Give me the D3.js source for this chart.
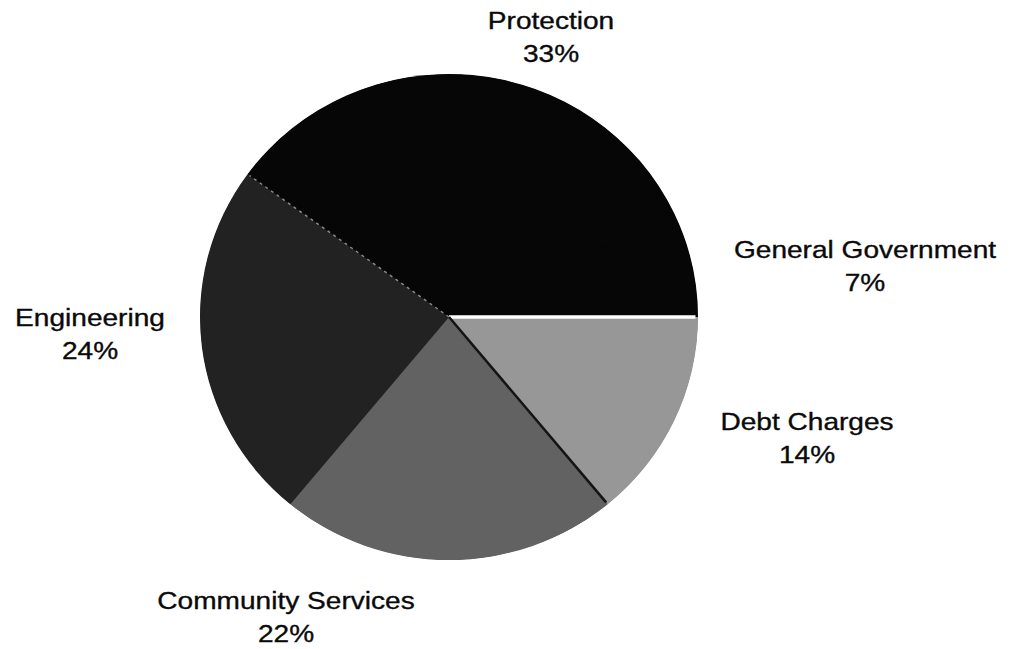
<!DOCTYPE html>
<html lang="en">
<head>
    <meta charset="UTF-8">
    <title>Expenditure Pie</title>
    <script src="https://d3js.org/d3.v7.min.js"></script>
    <style>
        body {
            margin: 0;
            padding: 0;
            background-color: #ffffff;
        }

        svg {
            display: block;
        }

        .label {
            font-family: "Liberation Sans", Arial, sans-serif;
            font-size: 24px;
            fill: #0a0a0a;
            stroke: #0a0a0a;
            stroke-width: 0.35px;
        }
    </style>
</head>
<body>

<svg id="chart"></svg>

<script>
    // data, going counterclockwise from 3 o'clock
    const categories = ["General Government", "Protection", "Engineering", "Community Services", "Debt Charges"];
    const shares = [7, 33, 24, 22, 14];
    const shareLabels = ["7%", "33%", "24%", "22%", "14%"];
    const fills = ["#060606", "#060606", "#222222", "#626262", "#979797"];

    const width = 1014;
    const height = 649;
    const cx = 449, cy = 317;
    const radius = 249;

    // where each label block is centred (first line)
    const labelAt = {
        "General Government": [865, 250],
        "Protection": [551, 21],
        "Engineering": [90, 318],
        "Community Services": [286, 601],
        "Debt Charges": [807, 422]
    };

    const svg = d3.select("#chart")
        .attr("width", width)
        .attr("height", height);

    const rows = categories.map((c, i) => ({ name: c, value: shares[i], label: shareLabels[i], fill: fills[i] }));

    // counterclockwise from 3 o'clock -> d3 angles decreasing from pi/2
    const pie = d3.pie()
        .sort(null)
        .value(d => d.value)
        .startAngle(Math.PI / 2)
        .endAngle(Math.PI / 2 - 2 * Math.PI);

    const arcs = pie(rows);

    const arc = d3.arc()
        .innerRadius(0)
        .outerRadius(radius);

    const g = svg.append("g")
        .attr("transform", `translate(${cx},${cy}) scale(1,0.976)`);

    // dark disc underneath so slice seams don't show light
    g.append("circle")
        .attr("r", radius - 0.5)
        .attr("fill", "#060606");

    g.selectAll("path.slice")
        .data(arcs)
        .join("path")
        .attr("class", "slice")
        .attr("d", arc)
        .attr("fill", d => d.data.fill);

    // slice edges as they look in the print
    const edge = a => [Math.sin(a) * radius, -Math.cos(a) * radius];
    const edges = [
        { angle: arcs[0].startAngle, stroke: "#ffffff", w: 3.5, dash: null },
        { angle: arcs[1].endAngle, stroke: "#8a8a8a", w: 1.5, dash: "3,4" },
        { angle: arcs[3].endAngle, stroke: "#141414", w: 2.5, dash: null }
    ];

    g.selectAll("line.edge")
        .data(edges)
        .join("line")
        .attr("class", "edge")
        .attr("x1", 0)
        .attr("y1", 0)
        .attr("x2", d => edge(d.angle)[0] * 0.99)
        .attr("y2", d => edge(d.angle)[1] * 0.99)
        .attr("stroke", d => d.stroke)
        .attr("stroke-width", d => d.w)
        .attr("stroke-dasharray", d => d.dash);

    // labels
    const labels = svg.selectAll("g.lbl")
        .data(rows)
        .join("g")
        .attr("class", "lbl")
        .attr("transform", d => `translate(${labelAt[d.name][0]},${labelAt[d.name][1]}) scale(1.17,1)`);

    labels.append("text")
        .attr("class", "label")
        .attr("text-anchor", "middle")
        .attr("dy", "0.35em")
        .text(d => d.name);

    labels.append("text")
        .attr("class", "label")
        .attr("text-anchor", "middle")
        .attr("y", 33)
        .attr("dy", "0.35em")
        .text(d => d.label);
</script>

</body>
</html>
